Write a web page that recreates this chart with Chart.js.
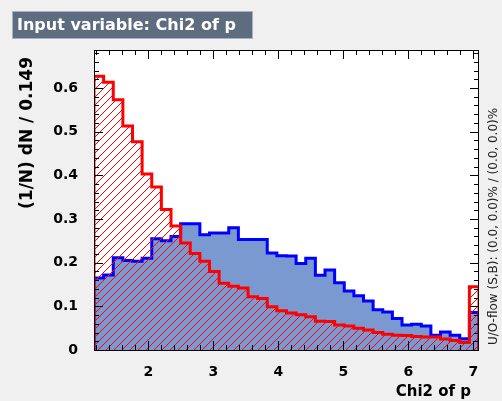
<!DOCTYPE html>
<html>
<head>
<meta charset="utf-8">
<script src="https://cdn.jsdelivr.net/npm/chart.js@4.4.1/dist/chart.umd.min.js"></script>
<style>
  body { margin: 0; background: #f0f0f0; }
  canvas { display: block; }
</style>
</head>
<body>
<canvas id="varChart" width="502" height="401"></canvas>
<script>
// histogram range, 40 bins
const xMin = 1.165;
const xMax = 7.088;
const nBins = 40;

// signal (blue, filled)
const signal = [0.165, 0.172, 0.211, 0.205, 0.203, 0.21, 0.255, 0.25, 0.26, 0.289,
                0.289, 0.264, 0.268, 0.268, 0.28, 0.253, 0.253, 0.253, 0.222, 0.216,
                0.215, 0.198, 0.21, 0.171, 0.183, 0.154, 0.135, 0.124, 0.112, 0.092,
                0.087, 0.072, 0.057, 0.059, 0.055, 0.034, 0.041, 0.034, 0.026, 0.086];

// background (red, hatched)
const background = [0.627, 0.613, 0.573, 0.513, 0.477, 0.403, 0.373, 0.322, 0.284, 0.245,
                    0.221, 0.203, 0.18, 0.153, 0.146, 0.142, 0.122, 0.118, 0.099, 0.09,
                    0.085, 0.081, 0.076, 0.066, 0.065, 0.057, 0.055, 0.05, 0.046, 0.04,
                    0.036, 0.034, 0.033, 0.031, 0.03, 0.03, 0.025, 0.022, 0.017, 0.145];

const xTicks = [2, 3, 4, 5, 6, 7];
const yTicks = [0, 0.1, 0.2, 0.3, 0.4, 0.5, 0.6];
const yMax = 0.687;

const FONT = 'DejaVu Sans';

function histPoints(vals) {
  const w = (xMax - xMin) / nBins;
  const pts = [{x: xMin, y: 0}];
  vals.forEach((v, i) => pts.push({x: xMin + i * w, y: v}));
  pts.push({x: xMax, y: vals[vals.length - 1]});
  pts.push({x: xMax, y: 0});
  return pts;
}

// red "/" hatching inside the background histogram, under its outline
const hatchFill = {
  id: 'hatchFill',
  beforeDatasetDraw(chart, args) {
    if (args.index !== 0) return;
    const {ctx, chartArea: a} = chart;
    const line = args.meta.dataset;
    ctx.save();
    ctx.beginPath();
    ctx.rect(a.left, a.top, a.right - a.left, a.bottom - a.top);
    ctx.clip();
    ctx.beginPath();
    line.path(ctx);
    ctx.closePath();
    ctx.clip();
    ctx.strokeStyle = 'rgb(255, 0, 0)';
    ctx.lineWidth = 1;
    ctx.beginPath();
    const h = a.bottom - a.top;
    for (let x = a.left - h; x < a.right; x += 8) {
      ctx.moveTo(x, a.bottom);
      ctx.lineTo(x + h, a.top);
    }
    ctx.stroke();
    ctx.restore();
  }
};

const decor = {
  id: 'decor',
  beforeDraw(chart) {
    const {ctx, chartArea: a} = chart;
    ctx.save();
    ctx.fillStyle = '#f0f0f0';
    ctx.fillRect(0, 0, chart.width, chart.height);
    ctx.fillStyle = '#ffffff';
    ctx.fillRect(a.left, a.top, a.right - a.left, a.bottom - a.top);
    ctx.restore();
  },
  afterDatasetsDraw(chart) {
    const {ctx, chartArea: a, scales} = chart;
    const x = scales.x, y = scales.y;
    ctx.save();
    ctx.strokeStyle = '#000';
    ctx.lineWidth = 1;
    ctx.beginPath();
    // x ticks, bottom and top
    for (let i = 6; i <= 35; i++) {
      const px = Math.round(x.getPixelForValue(i / 5)) + 0.5;
      const len = (i % 5 === 0) ? 9 : 5;
      ctx.moveTo(px, a.bottom); ctx.lineTo(px, a.bottom - len);
      ctx.moveTo(px, a.top); ctx.lineTo(px, a.top + len);
    }
    // y ticks, left and right
    for (let i = 0; i * 0.02 <= yMax; i++) {
      const py = Math.round(y.getPixelForValue(i * 0.02)) + 0.5;
      const len = (i % 5 === 0) ? 9 : 5;
      ctx.moveTo(a.left, py); ctx.lineTo(a.left + len, py);
      ctx.moveTo(a.right, py); ctx.lineTo(a.right - len, py);
    }
    ctx.stroke();
    ctx.strokeRect(a.left + 0.5, a.top + 0.5, a.right - a.left - 1, a.bottom - a.top);

    // title box
    ctx.fillStyle = '#5e6c80';
    ctx.fillRect(13, 12, 239, 26);
    ctx.strokeStyle = '#a9b2bf';
    ctx.strokeRect(12.5, 11.5, 240, 27);
    ctx.fillStyle = '#ffffff';
    ctx.font = 'bold 16px "' + FONT + '"';
    ctx.textBaseline = 'middle';
    ctx.textAlign = 'left';
    ctx.fillText('Input variable: Chi2 of p', 17, 26);

    // axis titles
    ctx.fillStyle = '#000';
    ctx.font = 'bold 15px "' + FONT + '"';
    ctx.textAlign = 'right';
    ctx.textBaseline = 'alphabetic';
    ctx.fillText('Chi2 of p', 471, 396);

    ctx.save();
    ctx.translate(28, 57);
    ctx.rotate(-Math.PI / 2);
    ctx.font = 'bold 17px "' + FONT + '"';
    ctx.textAlign = 'right';
    ctx.textBaseline = 'middle';
    ctx.fillText('(1/N) dN / 0.149', 0, 0);
    ctx.restore();

    ctx.save();
    ctx.translate(494, 345);
    ctx.rotate(-Math.PI / 2);
    ctx.font = '12px "' + FONT + '"';
    ctx.fillStyle = '#222';
    ctx.textAlign = 'left';
    ctx.textBaseline = 'middle';
    ctx.fillText('U/O-flow (S,B): (0.0, 0.0)% / (0.0, 0.0)%', 0, 0);
    ctx.restore();

    ctx.restore();
  }
};

const ctx = document.getElementById('varChart');

new Chart(ctx, {
  type: 'line',
  data: {
    datasets: [{
      label: 'Background',
      data: histPoints(background),
      stepped: 'before',
      borderColor: 'rgb(255, 0, 0)',
      borderWidth: 3,
      backgroundColor: 'rgba(0, 0, 0, 0)',
      fill: false,
      pointRadius: 0,
      order: 0
    }, {
      label: 'Signal',
      data: histPoints(signal),
      stepped: 'before',
      borderColor: 'rgb(0, 0, 255)',
      borderWidth: 3,
      backgroundColor: 'rgb(122, 153, 209)',
      fill: 'origin',
      pointRadius: 0,
      order: 1
    }]
  },
  options: {
    responsive: false,
    animation: false,
    events: [],
    layout: { padding: { left: 0, top: 50, right: 23, bottom: 0 } },
    plugins: { legend: { display: false }, tooltip: { enabled: false } },
    scales: {
      x: {
        type: 'linear',
        min: xMin,
        max: xMax,
        grid: { display: false },
        border: { display: false },
        afterBuildTicks: s => { s.ticks = xTicks.map(v => ({value: v})); },
        afterFit: s => { s.height = 51; },
        ticks: {
          autoSkip: false,
          maxRotation: 0,
          padding: 6,
          color: '#000',
          font: { family: FONT, size: 14, weight: 'bold' }
        }
      },
      y: {
        min: 0,
        max: yMax,
        grid: { display: false },
        border: { display: false },
        afterBuildTicks: s => { s.ticks = yTicks.map(v => ({value: v})); },
        afterFit: s => { s.width = 94; },
        ticks: {
          padding: 8,
          color: '#000',
          font: { family: FONT, size: 14, weight: 'bold' },
          callback: v => v === 0 ? '0' : v.toFixed(1)
        }
      }
    }
  },
  plugins: [hatchFill, decor]
});
</script>
</body>
</html>
